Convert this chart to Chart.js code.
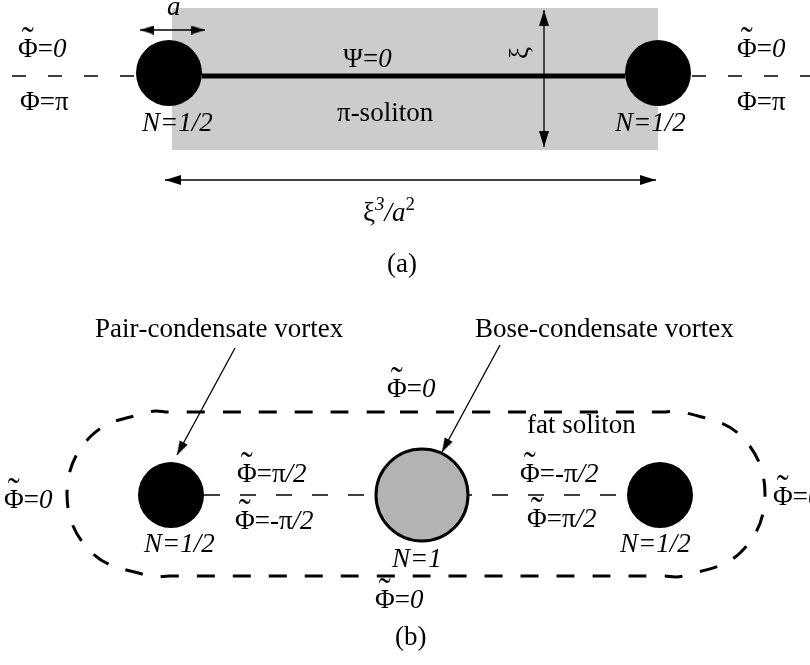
<!DOCTYPE html>
<html lang="en">
<head>
    <meta charset="UTF-8">
    <title>pi-soliton and fat soliton</title>
    <script src="https://cdn.jsdelivr.net/npm/chart.js"></script>
    <style>
        body { margin: 0; padding: 0; background: #fff; }
        #fig { display: block; }
    </style>
</head>
<body>
    <canvas id="fig" width="810" height="665"></canvas>
    <script>
        // diagram coordinates (same units as the picture, y pointing down)

        // (a) pi-soliton between two half vortices
        const bandX = [172, 658, 658, 172, 172];
        const bandY = [8, 8, 150, 150, 8];
        const psiLineX = [202, 625];
        const psiLineY = [76, 76];
        const leftTailX = [12, 135];
        const rightTailX = [692, 810];
        const tailY = [76, 76];
        const halfVortexX = [169, 658];
        const halfVortexY = [73, 73];
        const halfVortexR = [33, 33];
        const coreArrowX = [140, 205];
        const coreArrowY = [30, 30];
        const widthArrowX = [544, 544];
        const widthArrowY = [10, 147];
        const lengthArrowX = [165, 656];
        const lengthArrowY = [180, 180];

        // (b) fat soliton with a Bose-condensate vortex in the middle
        const fatX = [400, 662, 683, 741, 765, 741, 683, 662, 170, 149, 91, 67, 91, 149, 170, 400];
        const fatY = [412, 412, 412, 436, 494, 552, 576, 576, 576, 576, 552, 494, 436, 412, 412, 412];
        const pairVortexX = [171, 660];
        const pairVortexY = [495, 495];
        const pairVortexR = [33, 33];
        const boseVortexX = [422];
        const boseVortexY = [495];
        const boseVortexR = [46];
        const phaseLeftX = [204, 376];
        const phaseRightX = [456, 627];
        const phaseY = [495, 495];
        const pairArrowX = [235, 177];
        const pairArrowY = [348, 455];
        const boseArrowX = [500, 442];
        const boseArrowY = [345, 452];

        // labels: * toggles italic, ^ raises next char, ~ puts a tilde over next char
        const labelText = [
            '*a*', '~Φ=*0*', 'Φ=π', '*N=1/2*', '~Φ=*0*', 'Φ=π', '*N=1/2*',
            'Ψ=*0*', 'π-soliton', 'ξ', 'ξ*^3/a*^2', '(a)',
            'Pair-condensate vortex', 'Bose-condensate vortex', '~Φ=*0*', 'fat soliton',
            '~Φ=π*/2*', '~Φ=-π*/2*', '~Φ=-π*/2*', '~Φ=π*/2*',
            '*N=1/2*', '*N=1*', '*N=1/2*', '~Φ=*0*', '(b)', '~Φ=*0*', '~Φ=*0*'
        ];
        const labelX = [
            167, 18, 20, 142, 737, 737, 615,
            343, 337, 521, 363, 387,
            95, 475, 387, 527,
            237, 235, 520, 527,
            144, 392, 620, 375, 395, 4, 773
        ];
        const labelY = [
            15, 57, 110, 131, 57, 110, 131,
            67, 121, 53, 221, 272,
            337, 337, 397, 433,
            482, 529, 482, 527,
            552, 567, 552, 608, 645, 508, 505
        ];
        const labelTurn = labelText.map((t, i) => i === 9 ? -90 : 0);

        const FONT = '"Liberation Serif", "Times New Roman", serif';
        const FS = 27;

        function pts(xs, ys) {
            return xs.map((v, i) => ({ x: v, y: ys[i] }));
        }

        function makeHead(len, wid) {
            const c = document.createElement('canvas');
            c.width = len * 2;
            c.height = wid;
            const g = c.getContext('2d');
            g.fillStyle = '#000';
            g.beginPath();
            g.moveTo(len, wid / 2);
            g.lineTo(0, 0);
            g.lineTo(0, wid);
            g.closePath();
            g.fill();
            return c;
        }
        const bigHead = makeHead(16, 10);
        const smallHead = makeHead(14, 9);

        function arrowSet(xs, ys, both, head) {
            const ang = Math.atan2(ys[1] - ys[0], xs[1] - xs[0]) * 180 / Math.PI;
            return {
                data: pts(xs, ys),
                borderColor: '#000',
                borderWidth: 1.3,
                pointStyle: head,
                pointRadius: [both ? 1 : 0, 1],
                pointRotation: [ang + 180, ang],
                order: 2
            };
        }

        function pxRadius(list) {
            return (ctx) => {
                const s = ctx.chart.scales.x;
                return s.getPixelForValue(list[ctx.dataIndex]) - s.getPixelForValue(0);
            };
        }

        function drawRich(ctx, spec, px, py, turn) {
            ctx.save();
            ctx.translate(px, py);
            ctx.fillStyle = '#000';
            ctx.textAlign = 'left';
            let shift = 0;
            if (turn) {
                ctx.rotate(turn * Math.PI / 180);
                ctx.font = FS + 'px ' + FONT;
                shift = -ctx.measureText(spec).width / 2;
                ctx.textBaseline = 'middle';
            } else {
                ctx.textBaseline = 'alphabetic';
            }
            let cx = shift, italic = false, sup = false, tilde = false;
            for (const ch of spec) {
                if (ch === '*') { italic = !italic; continue; }
                if (ch === '^') { sup = true; continue; }
                if (ch === '~') { tilde = true; continue; }
                const size = sup ? FS * 0.7 : FS;
                ctx.font = (italic ? 'italic ' : '') + size + 'px ' + FONT;
                const w = ctx.measureText(ch).width;
                ctx.fillText(ch, cx, sup ? -FS * 0.4 : 0);
                if (tilde) {
                    ctx.font = Math.round(FS * 1.35) + 'px ' + FONT;
                    ctx.textAlign = 'center';
                    ctx.fillText('˜', cx + w / 2, -5);
                    ctx.textAlign = 'left';
                }
                cx += w;
                sup = false;
                tilde = false;
            }
            ctx.restore();
        }

        const labelPlugin = {
            id: 'diagramLabels',
            afterDatasetsDraw(chart) {
                const { ctx, scales: { x, y } } = chart;
                labelText.forEach((t, i) => {
                    drawRich(ctx, t, x.getPixelForValue(labelX[i]), y.getPixelForValue(labelY[i]), labelTurn[i]);
                });
            }
        };

        new Chart(document.getElementById('fig'), {
            type: 'line',
            data: {
                datasets: [
                    // soliton band
                    { data: pts(bandX, bandY), borderWidth: 0, backgroundColor: '#cccccc', fill: 'shape', pointRadius: 0, order: 6 },
                    // phase jump lines
                    { data: pts(psiLineX, psiLineY), borderColor: '#000', borderWidth: 5, pointRadius: 0, order: 3 },
                    { data: pts(leftTailX, tailY), borderColor: '#000', borderWidth: 1.5, borderDash: [14, 22], pointRadius: 0, order: 3 },
                    { data: pts(rightTailX, tailY), borderColor: '#000', borderWidth: 1.5, borderDash: [14, 22], pointRadius: 0, order: 3 },
                    { data: pts(phaseLeftX, phaseY), borderColor: '#000', borderWidth: 1.5, borderDash: [16, 20], pointRadius: 0, order: 3 },
                    { data: pts(phaseRightX, phaseY), borderColor: '#000', borderWidth: 1.5, borderDash: [16, 20], pointRadius: 0, order: 3 },
                    // fat soliton outline
                    { data: pts(fatX, fatY), borderColor: '#000', borderWidth: 3, borderDash: [18, 18], tension: 0.4, pointRadius: 0, order: 3 },
                    // arrows
                    arrowSet(coreArrowX, coreArrowY, true, smallHead),
                    arrowSet(widthArrowX, widthArrowY, true, bigHead),
                    arrowSet(lengthArrowX, lengthArrowY, true, bigHead),
                    arrowSet(pairArrowX, pairArrowY, false, smallHead),
                    arrowSet(boseArrowX, boseArrowY, false, smallHead),
                    // vortices
                    { data: pts(halfVortexX, halfVortexY), showLine: false, pointRadius: pxRadius(halfVortexR),
                      pointBackgroundColor: '#000', pointBorderWidth: 0, order: 0 },
                    { data: pts(pairVortexX, pairVortexY), showLine: false, pointRadius: pxRadius(pairVortexR),
                      pointBackgroundColor: '#000', pointBorderWidth: 0, order: 0 },
                    { data: pts(boseVortexX, boseVortexY), showLine: false, pointRadius: pxRadius(boseVortexR),
                      pointBackgroundColor: '#b3b3b3', pointBorderColor: '#000', pointBorderWidth: 3, order: 0 }
                ]
            },
            options: {
                responsive: false,
                animation: false,
                events: [],
                layout: { padding: 0, autoPadding: false },
                plugins: {
                    legend: { display: false },
                    tooltip: { enabled: false }
                },
                scales: {
                    x: { type: 'linear', min: 0, max: 810, display: false },
                    y: { type: 'linear', min: 0, max: 665, reverse: true, display: false }
                }
            },
            plugins: [labelPlugin]
        });
    </script>
</body>
</html>
